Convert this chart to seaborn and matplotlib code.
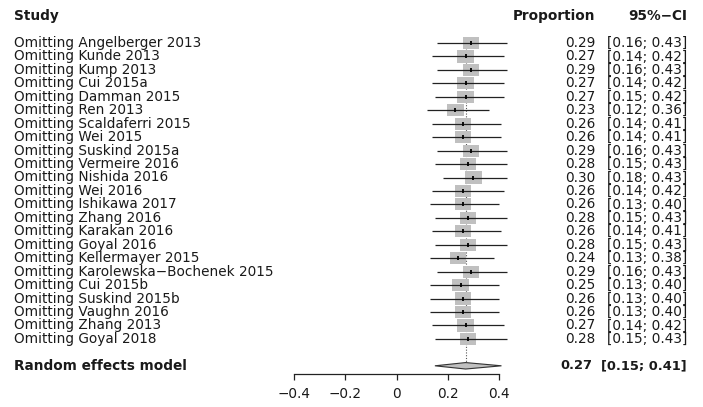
import numpy as np
import pandas as pd
import matplotlib
matplotlib.use("Agg")
import matplotlib.pyplot as plt
import seaborn as sns

studies = ["Angelberger 2013", "Kunde 2013", "Kump 2013", "Cui 2015a", "Damman 2015",
           "Ren 2013", "Scaldaferri 2015", "Wei 2015", "Suskind 2015a", "Vermeire 2016",
           "Nishida 2016", "Wei 2016", "Ishikawa 2017", "Zhang 2016", "Karakan 2016",
           "Goyal 2016", "Kellermayer 2015", "Karolewska\u2212Bochenek 2015", "Cui 2015b",
           "Suskind 2015b", "Vaughn 2016", "Zhang 2013", "Goyal 2018"]
prop = [0.29, 0.27, 0.29, 0.27, 0.27, 0.23, 0.26, 0.26, 0.29, 0.28, 0.30, 0.26,
        0.26, 0.28, 0.26, 0.28, 0.24, 0.29, 0.25, 0.26, 0.26, 0.27, 0.28]
lower = [0.16, 0.14, 0.16, 0.14, 0.15, 0.12, 0.14, 0.14, 0.16, 0.15, 0.18, 0.14,
         0.13, 0.15, 0.14, 0.15, 0.13, 0.16, 0.13, 0.13, 0.13, 0.14, 0.15]
upper = [0.43, 0.42, 0.43, 0.42, 0.42, 0.36, 0.41, 0.41, 0.43, 0.43, 0.43, 0.42,
         0.40, 0.43, 0.41, 0.43, 0.38, 0.43, 0.40, 0.40, 0.40, 0.42, 0.43]
pooled_label = "Random effects model"
pooled_est, pooled_lo, pooled_hi = 0.27, 0.15, 0.41
xticks = [-0.4, -0.2, 0, 0.2, 0.4]
tick_labels = ["\u22120.4", "\u22120.2", "0", "0.2", "0.4"]

n = len(studies)
rows = np.arange(1, n + 1)
pooled_row = n + 2
df = pd.DataFrame({"study": ["Omitting " + s for s in studies], "prop": prop,
                   "lower": lower, "upper": upper, "row": rows})

sns.set_theme(style="white")
plt.rcParams["font.family"] = ["DejaVu Sans"]
FS = 9.8
FSB = 9.4
TXT = "#1a1a1a"

W, H = 703, 407
fig = plt.figure(figsize=(W / 100, H / 100), dpi=100)
ax = fig.add_axes([0, 0, 1, 1])
ax.set_facecolor("white")

# scale: 0 at x=396.5 px, 256 px per unit; row 1 at y=43 px, 13.45 px per row
x0, ppu = 396.5, 256.0
ax.set_xlim(-x0 / ppu, (W - x0) / ppu)
y0, ppr = 43.0, 13.45
ax.set_ylim(1 + (H - y0) / ppr, 1 - y0 / ppr)

# CI lines
ax.hlines(df["row"], df["lower"], df["upper"], color="#222222", lw=0.9, zorder=3)
# squares (rectangular, as in the stretched reference)
rect = [(-1, -0.74), (1, -0.74), (1, 0.74), (-1, 0.74), (-1, -0.74)]
sns.scatterplot(data=df, x="prop", y="row", marker=rect, s=140, color="#c0c0c0",
                edgecolor="none", linewidth=0, ax=ax, zorder=2, legend=False)
sns.scatterplot(data=df, x="prop", y="row", marker="|", s=12, color="black",
                linewidth=1.3, ax=ax, zorder=4, legend=False)

# dotted line at pooled estimate
ax.vlines(pooled_est, 0.6, pooled_row - 0.25, colors="#555555", linestyles=(0, (1, 1.5)),
          lw=0.8, zorder=1)
# diamond
h = 0.24
ax.fill([pooled_lo, pooled_est, pooled_hi, pooled_est],
        [pooled_row, pooled_row - h, pooled_row, pooled_row + h],
        facecolor="#c0c0c0", edgecolor="#333333", lw=0.8, zorder=3)

# axis
for s in ["top", "left", "right"]:
    ax.spines[s].set_visible(False)
ax.spines["bottom"].set_position(("data", pooled_row + 0.6))
ax.spines["bottom"].set_bounds(xticks[0], xticks[-1])
ax.spines["bottom"].set_color("#222222")
ax.spines["bottom"].set_linewidth(0.9)
ax.set_xticks(xticks)
ax.set_xticklabels(tick_labels)
ax.tick_params(axis="x", direction="out", length=4, width=0.9, color="#222222",
               labelsize=FS, labelcolor=TXT, pad=5.5, bottom=True)
ax.set_yticks([])
ax.set_xlabel("")
ax.set_ylabel("")

tr = ax.get_yaxis_transform()  # x in axes fraction, y in data
xl, xp, xc = 14 / W, 595 / W, 687 / W

ax.text(xl, -1, "Study", transform=tr, ha="left", va="center", fontsize=FS,
        fontweight="bold", color=TXT)
ax.text(xp, -1, "Proportion", transform=tr, ha="right", va="center", fontsize=FS,
        fontweight="bold", color=TXT)
ax.text(xc, -1, "95%\u2212CI", transform=tr, ha="right", va="center", fontsize=FS,
        fontweight="bold", color=TXT)

for _, r in df.iterrows():
    ax.text(xl, r["row"], r["study"], transform=tr, ha="left", va="center",
            fontsize=FS, color=TXT)
    ax.text(xp, r["row"], f"{r['prop']:.2f}", transform=tr, ha="right", va="center",
            fontsize=FS, color=TXT)
    ax.text(xc, r["row"], f"[{r['lower']:.2f}; {r['upper']:.2f}]", transform=tr,
            ha="right", va="center", fontsize=FS, color=TXT)

ax.text(xl, pooled_row, pooled_label, transform=tr, ha="left", va="center",
        fontsize=FS, fontweight="bold", color=TXT)
ax.text(592 / W, pooled_row, f"{pooled_est:.2f}", transform=tr, ha="right", va="center",
        fontsize=FSB, fontweight="bold", color=TXT)
ax.text(xc, pooled_row, f"[{pooled_lo:.2f}; {pooled_hi:.2f}]", transform=tr,
        ha="right", va="center", fontsize=FSB, fontweight="bold", color=TXT)

fig.savefig("out.png", dpi=100, facecolor="white")
